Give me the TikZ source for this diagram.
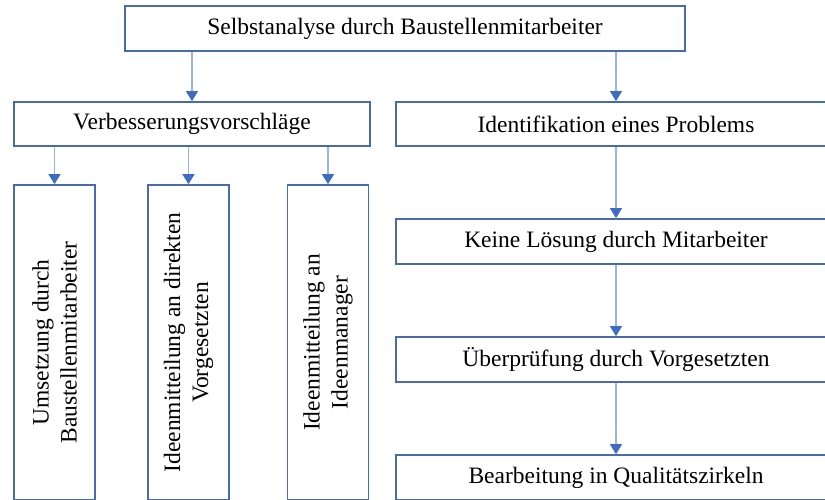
\documentclass[tikz,border=0pt]{standalone}
\usepackage{fontspec}
\setmainfont{Liberation Serif}
\usetikzlibrary{arrows.meta}
\definecolor{boxblue}{RGB}{72,106,176}
\definecolor{linkblue}{RGB}{150,180,228}
\definecolor{tipblue}{RGB}{62,108,196}
\tikzset{
  flowbox/.style={draw=boxblue, line width=1.7pt, fill=white, inner sep=0pt,
    font=\fontsize{23.5}{28}\selectfont, align=center},
  hbox/.style={flowbox, minimum height=45pt},
  vbox/.style={flowbox, minimum width=81pt, minimum height=315pt},
  vtext/.style={rotate=90, font=\fontsize{23.5}{28}\selectfont, align=center, inner sep=0pt},
  link/.style={draw=linkblue, line width=1.3pt,
    -{Triangle[length=10pt,width=12pt,color=tipblue,fill=tipblue]}}
}
\begin{document}
\begin{tikzpicture}[x=1pt,y=-1pt]
\useasboundingbox (0,0) rectangle (825,499);
\clip (0,0) rectangle (825,499);

% top level
\node[hbox, minimum width=560pt] (top) at (405,28.5) {Selbstanalyse durch Baustellenmitarbeiter};

% second level
\node[hbox, minimum width=356pt, minimum height=44pt] (verb) at (192,124) {Verbesserungsvorschläge};
\node[hbox, minimum width=440pt, minimum height=44pt] (ident) at (616,124) {Identifikation eines Problems};

% left branch: three upright boxes
\node[vbox] (v1) at (54.5,342.5) {};
\node[vtext] at (v1) {Umsetzung durch\\Baustellenmitarbeiter};
\node[vbox] (v2) at (188.5,342.5) {};
\node[vtext] at (v2) {Ideenmitteilung an direkten\\Vorgesetzten};
\node[vbox] (v3) at (328,342.5) {};
\node[vtext] at (v3) {Ideenmitteilung an\\Ideenmanager};

% right branch: chain of steps
\node[hbox, minimum width=440pt] (keine) at (616,241.5) {Keine Lösung durch Mitarbeiter};
\node[hbox, minimum width=440pt] (ueber) at (616,359.5) {Überprüfung durch Vorgesetzten};
\node[hbox, minimum width=440pt] (bearb) at (616,477.5) {Bearbeitung in Qualitätszirkeln};

% connectors
\draw[link] (verb.north |- top.south) -- (verb.north);
\draw[link] (ident.north |- top.south) -- (ident.north);
\draw[link] (v1.north |- verb.south) -- (v1.north);
\draw[link] (v2.north |- verb.south) -- (v2.north);
\draw[link] (v3.north |- verb.south) -- (v3.north);
\draw[link] (ident) -- (keine);
\draw[link] (keine) -- (ueber);
\draw[link] (ueber) -- (bearb);
\end{tikzpicture}
\end{document}
